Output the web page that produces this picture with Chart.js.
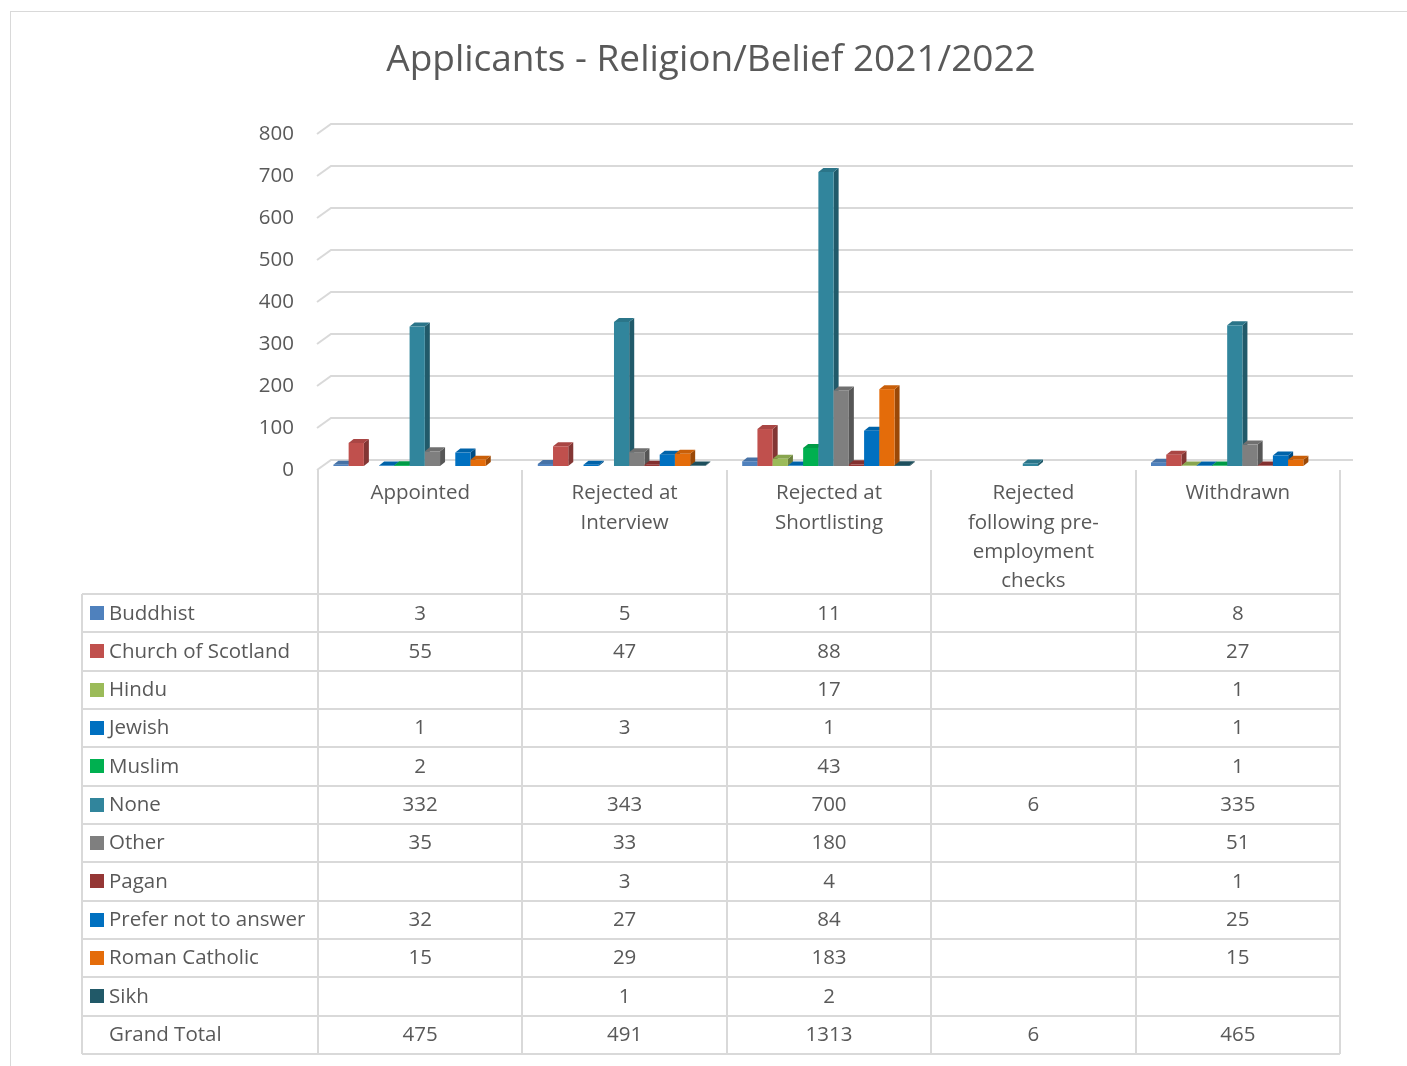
<!DOCTYPE html>
<html>
<head>
<meta charset="utf-8">
<script src="https://cdn.jsdelivr.net/npm/chart.js@4.4.1/dist/chart.umd.min.js"></script>
<style>
  html, body { margin: 0; padding: 0; background: #fff; overflow: hidden; }
  #wrap { position: relative; width: 1407px; height: 1066px; }
</style>
</head>
<body>
<div id="wrap"><canvas id="religionChart"></canvas></div>
<script>
// Recruitment stages (x categories) and how each header is wrapped in the table
const stages = ['Appointed', 'Rejected at Interview', 'Rejected at Shortlisting', 'Rejected following pre-employment checks', 'Withdrawn'];
const stageLines = [['Appointed'], ['Rejected at', 'Interview'], ['Rejected at', 'Shortlisting'], ['Rejected', 'following pre-', 'employment', 'checks'], ['Withdrawn']];

// Applicants per religion/belief, one value per stage (null = blank cell)
const buddhist         = [3, 5, 11, null, 8];
const churchOfScotland = [55, 47, 88, null, 27];
const hindu            = [null, null, 17, null, 1];
const jewish           = [1, 3, 1, null, 1];
const muslim           = [2, null, 43, null, 1];
const none             = [332, 343, 700, 6, 335];
const other            = [35, 33, 180, null, 51];
const pagan            = [null, 3, 4, null, 1];
const preferNot        = [32, 27, 84, null, 25];
const romanCatholic    = [15, 29, 183, null, 15];
const sikh             = [null, 1, 2, null, null];

const yTicks = [0, 100, 200, 300, 400, 500, 600, 700, 800];

const series = [
  { label: 'Buddhist', data: buddhist, color: '#4F81BD' },
  { label: 'Church of Scotland', data: churchOfScotland, color: '#C0504D' },
  { label: 'Hindu', data: hindu, color: '#9BBB59' },
  { label: 'Jewish', data: jewish, color: '#0070C0' },
  { label: 'Muslim', data: muslim, color: '#00B050' },
  { label: 'None', data: none, color: '#31859C' },
  { label: 'Other', data: other, color: '#7F7F7F' },
  { label: 'Pagan', data: pagan, color: '#953735' },
  { label: 'Prefer not to answer', data: preferNot, color: '#0070C0' },
  { label: 'Roman Catholic', data: romanCatholic, color: '#E46C0A' },
  { label: 'Sikh', data: sikh, color: '#215968' }
];

const grandTotal = stages.map((_, i) => series.reduce((s, d) => s + (d.data[i] || 0), 0));

const FONT = '"Open Sans", "Noto Sans", sans-serif';
const TEXT = '#595959';
const LINE = '#D9D9D9';

// depth of the 3D look
const WALL_DX = 13, WALL_DY = -10;   // back wall relative to floor front
const BAR_DX = -3, BAR_DY = -4;      // bar front faces relative to floor front
const DEPTH_X = 5, DEPTH_Y = -4;     // bar thickness

function shade(hex, f) {
  const n = parseInt(hex.slice(1), 16);
  const r = Math.round(((n >> 16) & 255) * f);
  const g = Math.round(((n >> 8) & 255) * f);
  const b = Math.round((n & 255) * f);
  return `rgb(${r},${g},${b})`;
}

const chartFrame = {
  id: 'chartFrame',
  beforeDraw(chart) {
    const ctx = chart.ctx;
    ctx.save();
    ctx.fillStyle = '#fff';
    ctx.fillRect(0, 0, chart.width, chart.height);
    ctx.strokeStyle = LINE;
    ctx.lineWidth = 1;
    ctx.strokeRect(10.5, 11.5, 1600, 1200);
    ctx.fillStyle = TEXT;
    ctx.font = `37px ${FONT}`;
    ctx.textAlign = 'center';
    ctx.textBaseline = 'middle';
    ctx.fillText('Applicants - Religion/Belief 2021/2022', 711, 60);
    ctx.restore();
  }
};

// gridlines on the back wall, then bars left to right so each side face sits under its neighbour
const bars3d = {
  id: 'bars3d',
  beforeDatasetsDraw(chart) {
    const ctx = chart.ctx;
    const ca = chart.chartArea;
    const y = chart.scales.y;
    ctx.save();
    ctx.strokeStyle = LINE;
    ctx.lineWidth = 2;
    yTicks.forEach(v => {
      const py = Math.round(y.getPixelForValue(v));
      ctx.beginPath();
      ctx.moveTo(ca.left - 1, py);
      ctx.lineTo(ca.left + WALL_DX, py + WALL_DY);
      ctx.lineTo(ca.right + WALL_DX, py + WALL_DY);
      ctx.stroke();
    });

    for (let j = 0; j < stages.length; j++) {
      series.forEach((s, i) => {
        const v = s.data[j];
        if (v === null || v === undefined) return;
        const bar = chart.getDatasetMeta(i).data[j];
        const w = bar.width;
        const xl = bar.x - w / 2 + BAR_DX, xr = xl + w;
        const yt = bar.y + BAR_DY, yb = bar.base + BAR_DY;
        // side face
        ctx.fillStyle = shade(s.color, 0.68);
        ctx.beginPath();
        ctx.moveTo(xr, yt); ctx.lineTo(xr + DEPTH_X, yt + DEPTH_Y);
        ctx.lineTo(xr + DEPTH_X, yb + DEPTH_Y); ctx.lineTo(xr, yb);
        ctx.closePath(); ctx.fill();
        // top face
        ctx.fillStyle = shade(s.color, 0.88);
        ctx.beginPath();
        ctx.moveTo(xl, yt); ctx.lineTo(xl + DEPTH_X, yt + DEPTH_Y);
        ctx.lineTo(xr + DEPTH_X, yt + DEPTH_Y); ctx.lineTo(xr, yt);
        ctx.closePath(); ctx.fill();
        // front face
        ctx.fillStyle = s.color;
        ctx.fillRect(xl, yt, w, yb - yt);
      });
    }
    ctx.restore();
    return false;
  }
};

// data table under the plot, columns taken from the category scale
const dataTable = {
  id: 'dataTable',
  afterDraw(chart) {
    const ctx = chart.ctx;
    const ca = chart.chartArea;
    const xs = chart.scales.x;
    const colW = (ca.right - ca.left) / stages.length;
    const left = 82, headTop = ca.bottom, headBottom = 594, rowH = 38.33;
    const rows = series.length + 1;
    const bottom = headBottom + rows * rowH;

    ctx.save();
    ctx.strokeStyle = LINE;
    ctx.lineWidth = 2;
    ctx.beginPath();
    for (let r = 0; r <= rows; r++) {
      const py = Math.round(headBottom + r * rowH);
      ctx.moveTo(left, py); ctx.lineTo(ca.right, py);
    }
    ctx.moveTo(left, headBottom); ctx.lineTo(left, bottom);
    for (let c = 0; c <= stages.length; c++) {
      const px = Math.round(ca.left + c * colW);
      ctx.moveTo(px, headTop); ctx.lineTo(px, bottom);
    }
    ctx.stroke();

    ctx.fillStyle = TEXT;
    ctx.textBaseline = 'middle';
    ctx.textAlign = 'center';
    ctx.font = `20.5px ${FONT}`;
    stageLines.forEach((lines, c) => {
      const cx = xs.getPixelForValue(c);
      lines.forEach((t, k) => ctx.fillText(t, cx, 493.5 + k * 29.3));
    });

    const rowLabels = series.map(s => s.label).concat(['Grand Total']);
    const rowValues = series.map(s => s.data).concat([grandTotal]);
    rowLabels.forEach((label, r) => {
      const cy = headBottom + r * rowH + rowH / 2;
      if (r < series.length) {
        ctx.fillStyle = series[r].color;
        ctx.fillRect(90, Math.round(cy - 7), 14, 14);
      }
      ctx.fillStyle = TEXT;
      ctx.textAlign = 'left';
      ctx.fillText(label, 109, cy + 0.5);
      ctx.textAlign = 'center';
      rowValues[r].forEach((v, c) => {
        if (v === null) return;
        ctx.fillText(String(v), xs.getPixelForValue(c), cy + 0.5);
      });
    });
    ctx.restore();
  }
};

new Chart(document.getElementById('religionChart'), {
  type: 'bar',
  data: {
    labels: stages,
    datasets: series.map(s => ({
      label: s.label,
      data: s.data,
      backgroundColor: s.color,
      categoryPercentage: 0.82,
      barPercentage: 1.0
    }))
  },
  options: {
    responsive: true,
    maintainAspectRatio: false,
    animation: false,
    layout: { padding: { top: 134, right: 67, bottom: 596, left: 0 } },
    plugins: {
      legend: { display: false },
      title: { display: false },
      tooltip: { enabled: false }
    },
    scales: {
      x: { display: false },
      y: {
        min: 0,
        max: 800,
        afterFit(scale) { scale.width = 318; },
        afterBuildTicks(scale) { scale.ticks = yTicks.map(v => ({ value: v })); },
        grid: { display: false },
        border: { display: false },
        ticks: { padding: 16, color: TEXT, font: { family: FONT, size: 20.5 } }
      }
    }
  },
  plugins: [chartFrame, bars3d, dataTable]
});
</script>
</body>
</html>
